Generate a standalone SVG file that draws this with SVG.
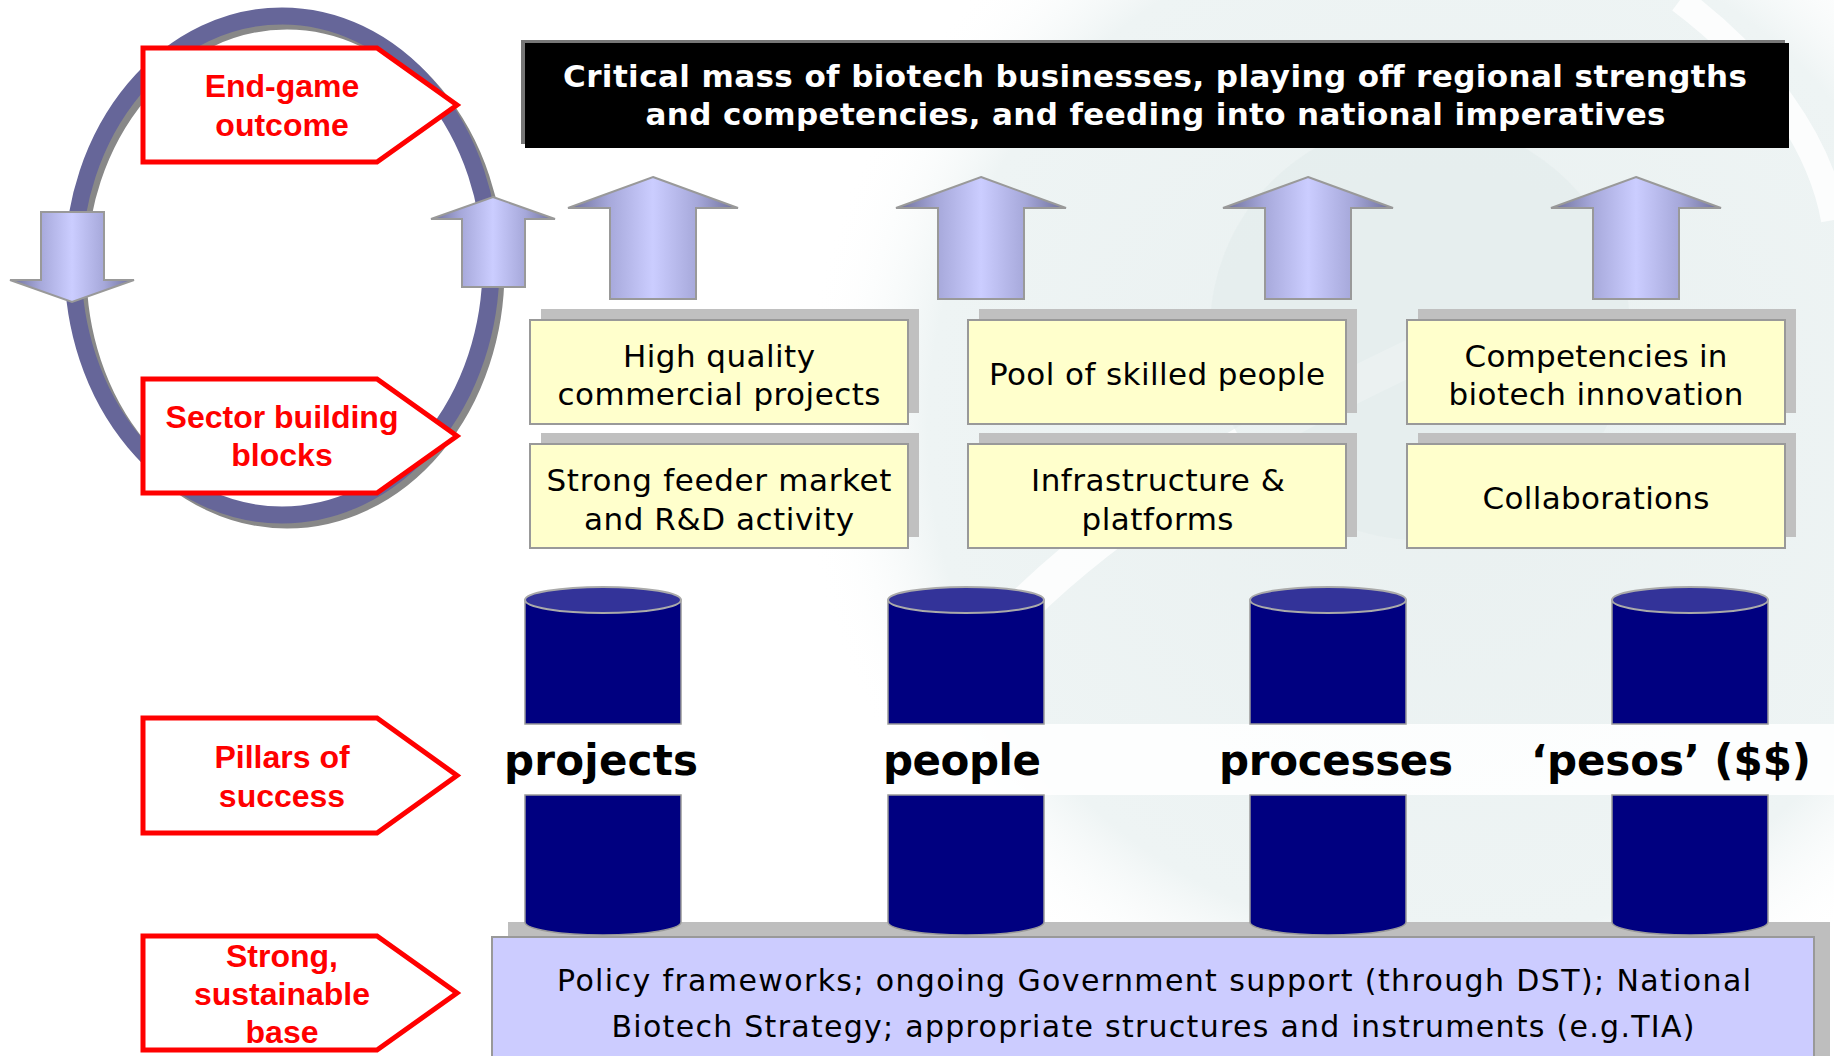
<svg xmlns="http://www.w3.org/2000/svg" width="1834" height="1056" viewBox="0 0 1834 1056">
<defs>
<style>
.lbl{fill:#fff;stroke:#FF0000;stroke-width:5}
.lt{font-family:"Liberation Sans",Arial,sans-serif;font-weight:bold;font-size:32px;fill:#FF0000;text-anchor:middle}
.yb{fill:#FFFFCC;stroke:#999;stroke-width:2}
.ys{fill:#C0C0C0}
.yt{font-family:"DejaVu Sans",Verdana,sans-serif;font-size:31px;fill:#000;text-anchor:middle}
.bt{font-family:"DejaVu Sans",Verdana,sans-serif;font-weight:bold;font-size:31px;fill:#fff;text-anchor:middle}
.pt{font-family:"DejaVu Sans",Verdana,sans-serif;font-weight:bold;font-size:42px;fill:#000;text-anchor:middle}
.st{font-family:"DejaVu Sans",Verdana,sans-serif;font-size:30px;fill:#000;text-anchor:middle}
.arr{fill:url(#ag);stroke:#999;stroke-width:2;stroke-linejoin:miter}
.cyl{fill:#000080;stroke:#999;stroke-width:1.5}
.cyt{fill:#333399;stroke:#AAA;stroke-width:2}
</style>
<linearGradient id="ag" x1="0" y1="0" x2="1" y2="0">
<stop offset="0" stop-color="#6C6E98"/>
<stop offset="0.24" stop-color="#A6A8DA"/>
<stop offset="0.5" stop-color="#CBCDFF"/>
<stop offset="0.76" stop-color="#A6A8DA"/>
<stop offset="1" stop-color="#6C6E98"/>
</linearGradient>
<radialGradient id="bgg" cx="0.5" cy="0.5" r="0.5">
<stop offset="0" stop-color="#E9F0F0"/>
<stop offset="0.8" stop-color="#EEF4F4"/>
<stop offset="1" stop-color="#FFFFFF" stop-opacity="0"/>
</radialGradient>
<path id="upArrow" d="M0,0 L85,31 L43,31 L43,122 L-43,122 L-43,31 L-85,31 Z"/>
</defs>
<rect width="1834" height="1056" fill="#fff"/>
<g id="background">
<circle cx="1440" cy="430" r="640" fill="url(#bgg)"/>
<path d="M940,700 C1060,540 1230,440 1470,330" fill="none" stroke="#fff" stroke-width="36" stroke-linecap="round" opacity="0.8"/>
<circle cx="1420" cy="330" r="210" fill="#E4ECEC" opacity="0.7"/>
<path d="M1680,0 C1760,60 1820,140 1834,220" fill="none" stroke="#fff" stroke-width="26" opacity="0.8"/>
</g>
<g id="cycle">
<ellipse cx="287" cy="270.5" rx="209" ry="249.5" fill="none" stroke="#888" stroke-width="17"/>
<ellipse cx="282" cy="265.5" rx="209" ry="249.5" fill="none" stroke="#666699" stroke-width="17"/>
<path class="arr" d="M41,212 L104,212 L104,280 L134,280 L72,302 L10,280 L41,280 Z"/>
<path class="arr" d="M493,197 L555,219 L525,219 L525,287 L462,287 L462,219 L431,219 Z"/>
</g>
<g id="label-endgame">
<path class="lbl" d="M143,48 H377 L457,105 L377,162 H143 Z"/>
<text class="lt" x="282" y="97">End-game</text>
<text class="lt" x="282" y="136">outcome</text>
</g>
<g id="label-building">
<path class="lbl" d="M143,379 H377 L457,436 L377,493 H143 Z"/>
<text class="lt" x="282" y="428">Sector building</text>
<text class="lt" x="282" y="466">blocks</text>
</g>
<g id="label-pillars">
<path class="lbl" d="M143,718 H377 L457,775.5 L377,833 H143 Z"/>
<text class="lt" x="282" y="768">Pillars of</text>
<text class="lt" x="282" y="807">success</text>
</g>
<g id="label-base">
<path class="lbl" d="M143,936 H377 L457,993 L377,1050 H143 Z"/>
<text class="lt" x="282" y="967">Strong,</text>
<text class="lt" x="282" y="1005">sustainable</text>
<text class="lt" x="282" y="1043">base</text>
</g>
<g id="outcome">
<rect x="521" y="40" width="1264" height="104" fill="#777"/>
<rect x="525" y="43" width="1264" height="105" fill="#000"/>
<text class="bt" x="1155" y="87" textLength="1184" lengthAdjust="spacing">Critical mass of biotech businesses, playing off regional strengths</text>
<text class="bt" x="1155.5" y="125" textLength="1020" lengthAdjust="spacing">and competencies, and feeding into national imperatives</text>
</g>
<g id="connectors">
<use href="#upArrow" class="arr" x="653" y="177"/>
<use href="#upArrow" class="arr" x="981" y="177"/>
<use href="#upArrow" class="arr" x="1308" y="177"/>
<use href="#upArrow" class="arr" x="1636" y="177"/>
</g>
<g id="block-high-quality">
<rect class="ys" x="541" y="309" width="378" height="104"/>
<rect class="yb" x="530" y="320" width="378" height="104"/>
<text class="yt" x="719" y="367" textLength="192" lengthAdjust="spacing">High quality</text>
<text class="yt" x="719" y="405" textLength="323" lengthAdjust="spacing">commercial projects</text>
</g>
<g id="block-skilled">
<rect class="ys" x="979" y="309" width="378" height="104"/>
<rect class="yb" x="968" y="320" width="378" height="104"/>
<text class="yt" x="1157" y="385" textLength="336" lengthAdjust="spacing">Pool of skilled people</text>
</g>
<g id="block-competencies">
<rect class="ys" x="1418" y="309" width="378" height="104"/>
<rect class="yb" x="1407" y="320" width="378" height="104"/>
<text class="yt" x="1596" y="367" textLength="263" lengthAdjust="spacing">Competencies in</text>
<text class="yt" x="1596" y="405" textLength="295" lengthAdjust="spacing">biotech innovation</text>
</g>
<g id="block-feeder">
<rect class="ys" x="541" y="433" width="378" height="104"/>
<rect class="yb" x="530" y="444" width="378" height="104"/>
<text class="yt" x="719" y="491" textLength="345" lengthAdjust="spacing">Strong feeder market</text>
<text class="yt" x="719" y="530" textLength="270" lengthAdjust="spacing">and R&amp;D activity</text>
</g>
<g id="block-infrastructure">
<rect class="ys" x="979" y="433" width="378" height="104"/>
<rect class="yb" x="968" y="444" width="378" height="104"/>
<text class="yt" x="1158" y="491" textLength="254" lengthAdjust="spacing">Infrastructure &amp;</text>
<text class="yt" x="1157.5" y="530" textLength="152" lengthAdjust="spacing">platforms</text>
</g>
<g id="block-collaborations">
<rect class="ys" x="1418" y="433" width="378" height="104"/>
<rect class="yb" x="1407" y="444" width="378" height="104"/>
<text class="yt" x="1596" y="509" textLength="227" lengthAdjust="spacing">Collaborations</text>
</g>
<g id="base">
<rect x="508" y="922" width="1322" height="140" fill="#BEBEBE"/>
<rect x="492" y="937" width="1322" height="130" fill="#CCCCFF" stroke="#999" stroke-width="2"/>
<text class="st" x="1154" y="991" textLength="1194" lengthAdjust="spacing">Policy frameworks; ongoing Government support (through DST); National</text>
<text class="st" x="1153" y="1037" textLength="1083" lengthAdjust="spacing">Biotech Strategy; appropriate structures and instruments (e.g.TIA)</text>
</g>
<rect id="label-band" x="492" y="724" width="1342" height="71" fill="#fff" opacity="0.85"/>
<g id="pillar-projects">
<path class="cyl" d="M525,600 V724 H681 V600 Z"/>
<path class="cyl" d="M525,795 V922 A78,13 0 0 0 681,922 V795 Z"/>
<ellipse class="cyt" cx="603" cy="600" rx="78" ry="13"/>
<text class="pt" x="601" y="775" textLength="194" lengthAdjust="spacing">projects</text>
</g>
<g id="pillar-people">
<path class="cyl" d="M888,600 V724 H1044 V600 Z"/>
<path class="cyl" d="M888,795 V922 A78,13 0 0 0 1044,922 V795 Z"/>
<ellipse class="cyt" cx="966" cy="600" rx="78" ry="13"/>
<text class="pt" x="962" y="775" textLength="158" lengthAdjust="spacing">people</text>
</g>
<g id="pillar-processes">
<path class="cyl" d="M1250,600 V724 H1406 V600 Z"/>
<path class="cyl" d="M1250,795 V922 A78,13 0 0 0 1406,922 V795 Z"/>
<ellipse class="cyt" cx="1328" cy="600" rx="78" ry="13"/>
<text class="pt" x="1336" y="775" textLength="234" lengthAdjust="spacing">processes</text>
</g>
<g id="pillar-pesos">
<path class="cyl" d="M1612,600 V724 H1768 V600 Z"/>
<path class="cyl" d="M1612,795 V922 A78,13 0 0 0 1768,922 V795 Z"/>
<ellipse class="cyt" cx="1690" cy="600" rx="78" ry="13"/>
<text class="pt" x="1671" y="775" textLength="280" lengthAdjust="spacing">‘pesos’ ($$)</text>
</g>
</svg>
